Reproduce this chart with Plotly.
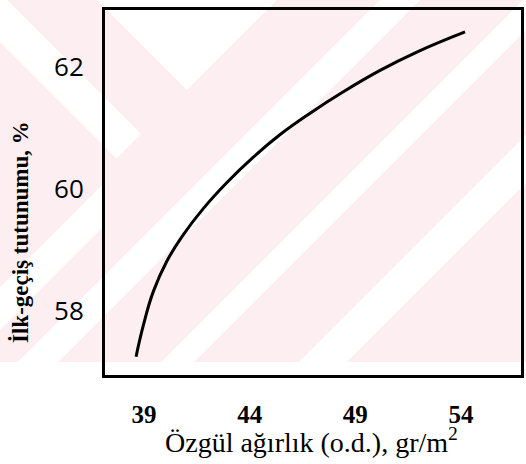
import plotly.graph_objects as go

# ---- data ----
ozgul_agirlik = [38.62, 38.97, 39.44, 40.07, 40.86, 41.81, 42.91, 44.17, 45.44, 46.86,
                 48.43, 50.17, 51.91, 54.19]
ilk_gecis_tutunumu = [57.25, 57.77, 58.32, 58.81, 59.25, 59.68, 60.10, 60.52, 60.89, 61.24,
                      61.59, 61.94, 62.24, 62.57]
x_ticks = [39, 44, 49, 54]
y_ticks = [58, 60, 62]

W, H = 526, 464
L, R, T, B = 105, 5, 10, 89
PW, PH = W - L - R, H - T - B


def px(x):
    return (x - L) / PW


def py(y):
    return (H - B - y) / PH


def poly(points):
    return "M " + " L ".join(f"{px(a):.4f},{py(b):.4f}" for a, b in points) + " Z"


PINK = "#fdeef1"
shapes = [
    dict(type="rect", xref="paper", yref="paper", x0=px(-5), x1=px(W + 5), y0=py(362), y1=py(-5),
         fillcolor=PINK, line=dict(width=0), layer="below"),
]
white_regions = [
    [(-5, -5), (2, -5), (141, 134), (116.5, 158.5), (-5, 37)],
    [(92, -5), (187, 90), (282, -5)],
    [(-5, 292), (-5, 335), (103, 227), (103, 184)],
    [(385, -5), (425, -5), (58, 362), (18, 362)],
    [(528, -5), (561, -5), (194, 362), (161, 362)],
    [(666, -5), (714, -5), (347, 362), (299, 362)],
]
for reg in white_regions:
    shapes.append(dict(type="path", xref="paper", yref="paper", path=poly(reg),
                       fillcolor="white", line=dict(width=0), layer="below"))

fig = go.Figure()
fig.add_trace(go.Scatter(
    x=ozgul_agirlik, y=ilk_gecis_tutunumu, mode="lines",
    line=dict(color="black", width=3, shape="spline", smoothing=1.3),
    hoverinfo="skip", showlegend=False,
))

fig.update_layout(
    width=W, height=H,
    margin=dict(l=L, r=R, t=T, b=B),
    paper_bgcolor="white", plot_bgcolor="rgba(0,0,0,0)",
    shapes=shapes,
    xaxis=dict(range=[37.15, 56.84], tickvals=x_ticks, ticks="", showgrid=False, zeroline=False,
               showline=True, mirror=True, linecolor="black", linewidth=3,
               tickfont=dict(family="Liberation Serif", size=25, color="black", weight="bold"),
               ticklabelstandoff=15, automargin=False),
    yaxis=dict(range=[56.95, 62.93], tickvals=y_ticks, ticks="", showgrid=False, zeroline=False,
               showline=True, mirror=True, linecolor="black", linewidth=3,
               tickfont=dict(family="Open Sans", size=26, color="black"),
               ticklabelstandoff=13, automargin=False),
    annotations=[
        dict(text="Özgül ağırlık (o.d.), gr/m<sup>2</sup>", xref="paper", yref="paper",
             x=px(311), y=py(440), showarrow=False, xanchor="center", yanchor="middle",
             font=dict(family="Liberation Serif", size=28, color="black")),
        dict(text="İlk-geçiş tutunumu, %", xref="paper", yref="paper",
             x=px(21), y=py(232), showarrow=False, xanchor="center", yanchor="middle",
             textangle=-90,
             font=dict(family="Liberation Serif", size=23, color="black", weight="bold")),
    ],
)

fig.write_html("out.html", config={"displayModeBar": False},
               post_script="document.body.style.margin='0';document.body.style.overflow='hidden';")
